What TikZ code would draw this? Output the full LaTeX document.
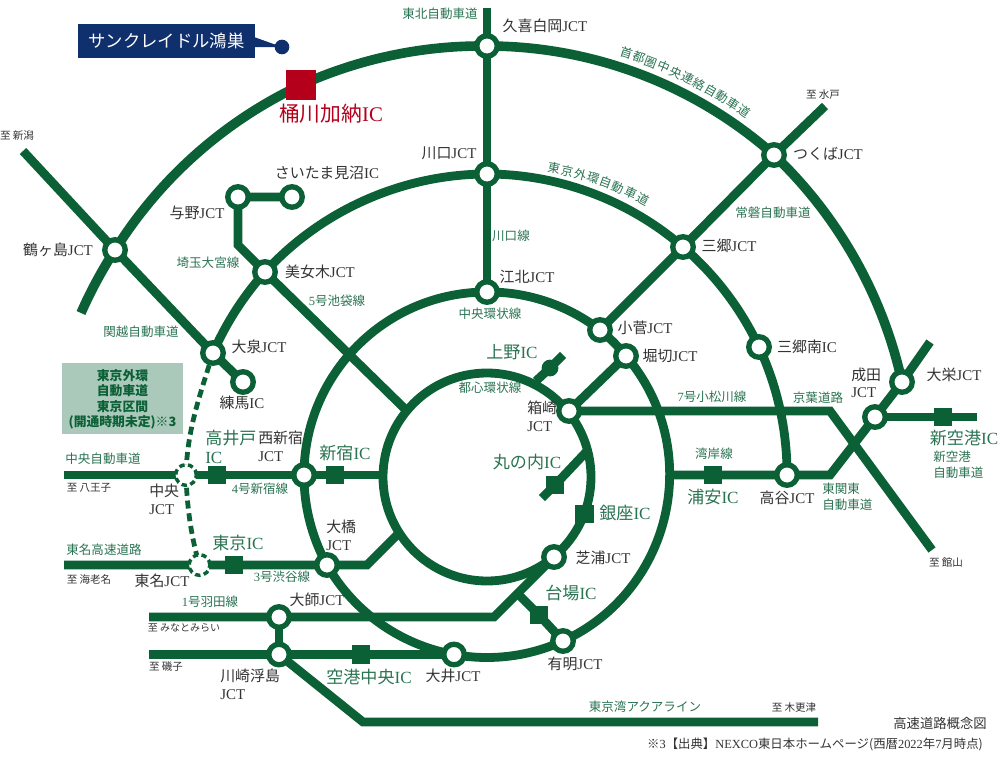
\documentclass[tikz,border=0pt]{standalone}
\usepackage{fontspec}
\setmainfont{Noto Sans CJK JP}
\newfontfamily\latf{Liberation Serif}
\usetikzlibrary{backgrounds,decorations.text}
\definecolor{road}{HTML}{0B6036}
\definecolor{roadtext}{HTML}{2A7352}
\definecolor{inktext}{HTML}{333333}
\definecolor{navybox}{HTML}{0F2F6D}
\definecolor{redic}{HTML}{B5001B}
\definecolor{notebox}{HTML}{AAC9BB}
\newcommand\lt[1]{{\latf #1}}
\newcommand\jct{\lt{JCT}}
\newcommand\icn{\lt{IC}}
\newcommand\fs[1]{\fontsize{#1}{#1}\selectfont}
\tikzset{
  x=0.75pt,y=-0.75pt,
  rd/.style={draw=road,line width=6.6pt,line join=miter},
  rdk/.style={draw=road,line width=7.2pt},
  seg/.style={bend left=#1,looseness={1.7029*tan(#1/2)/sin(#1)}},
  jc/.style={circle,draw=road,fill=white,line width=4pt,minimum size=15.4pt,inner sep=0pt},
  jcd/.style={circle,draw=road,fill=white,line width=2.6pt,dash pattern=on 4pt off 2.6pt,minimum size=15.5pt,inner sep=0pt},
  icsq/.style={rectangle,fill=road,minimum size=14.2pt,inner sep=0pt},
  lab/.style={text=inktext,font=\fs{11.2},inner sep=0pt,align=left},
  icl/.style={text=roadtext,font=\fs{12.8},inner sep=0pt,align=left},
  rn/.style={text=roadtext,font=\fs{9.4},inner sep=0pt,align=left},
  nt/.style={text=inktext,font=\fs{7.9},inner sep=0pt},
}
\begin{document}
\begin{tikzpicture}
\useasboundingbox (0,0) rectangle (1000,757);
% junctions
\node[jc] (kuki) at (487,46) {};
\node[jc] (kawaguchi) at (487,174) {};
\node[jc] (kohoku) at (487,292) {};
\node[jc] (tsuru) at (115,250) {};
\node[jc] (yono) at (238,197) {};
\node[jc] (minuma) at (292,197) {};
\node[jc] (bijogi) at (265,272) {};
\node[jc] (oizumi) at (213,353) {};
\node[jc] (nerima) at (243,382) {};
\node[jc] (tsukuba) at (774,155) {};
\node[jc] (misato) at (683,247) {};
\node[jc] (kosuge) at (600,330) {};
\node[jc] (horikiri) at (626,356) {};
\node[jc] (mminami) at (759,347) {};
\node[jc] (taiei) at (902,382) {};
\node[jc] (narita) at (875,417) {};
\node[jc] (hakozaki) at (569,411) {};
\node[jc] (takaya) at (787,475) {};
\node[jc] (shibaura) at (554,557) {};
\node[jc] (ariake) at (563,641) {};
\node[jc] (oi) at (454,654.5) {};
\node[jc] (nishi) at (304,475) {};
\node[jc] (ohashi) at (327,565) {};
\node[jc] (daishi) at (279,617) {};
\node[jc] (kawasaki) at (279,654.5) {};
\node[jcd] (chuo) at (186,475) {};
\node[jcd] (tomei) at (199.5,565) {};
% interchanges
\node[rectangle,fill=redic,minimum size=22.6pt,inner sep=0pt] (okegawa) at (301,85) {};
\node[icsq] (takaido) at (217,475) {};
\node[icsq] (shinjuku) at (335,475) {};
\node[icsq] (tokyo) at (234,565) {};
\node[icsq] (kukou) at (361,654.5) {};
\node[icsq] (urayasu) at (713,475) {};
\node[icsq] (shinkuko) at (943,417) {};
\node[icsq] (ginza) at (584.5,514) {};
\node[icsq] (daiba) at (539,615) {};
\node[icsq] (maru) at (555,485) {};
\node[circle,fill=road,minimum size=12.6pt,inner sep=0pt] (ueno) at (550,368) {};
% free ends and bends
\coordinate (tohokuEnd) at (487,8);
\coordinate (kenoEnd) at (81,313);
\coordinate (kanetsuEnd) at (23,151);
\coordinate (mitoEnd) at (825,106);
\coordinate (taieiEnd) at (930,342);
\coordinate (bjBend) at (238,245);
\coordinate (ikeEnd) at (405,409);
\coordinate (uenoTip) at (563,355);
\coordinate (uenoRing) at (536,381);
\coordinate (maruTip) at (542,498);
\coordinate (maruRing) at (588,450);
\coordinate (komaBend) at (830,411);
\coordinate (tateyama) at (932,550);
\coordinate (shinEnd) at (977,417);
\coordinate (chuoEnd) at (64,475);
\coordinate (shinjukuEnd) at (383,475);
\coordinate (tomeiEnd) at (64,565);
\coordinate (shibuyaBend) at (367,565);
\coordinate (shibuyaEnd) at (399,533);
\coordinate (haneEnd) at (149,617);
\coordinate (haneBend) at (494,617);
\coordinate (isogoEnd) at (149,654.5);
\coordinate (aquaBend) at (363,722);
\coordinate (aquaEnd) at (818,722);
\coordinate (wanganE) at (670,475);
\coordinate (wanganBend) at (830,475);
\coordinate (daibaJoin) at (516,592);
\begin{scope}[on background layer]
  % toshin ring
  \node[circle,draw=road,line width=6.6pt,minimum size=156pt,inner sep=0pt] (toshin) at (487,477) {};
  % ken-o
  \draw[rdk] (kenoEnd) to[seg=4.65] (tsuru.center) to[seg=16.45] (okegawa.center) to[seg=12.5] (kuki.center) to[seg=20.8] (tsukuba.center) to[seg=17] (taiei.center);
  % gaikan
  \draw[rd] (oizumi.center) to[seg=9.2] (bijogi.center) to[seg=23.7] (kawaguchi.center) to[seg=20.35] (misato.center) to[seg=12.1] (mminami.center) to[seg=12.65] (takaya.center);
  % chuo kanjo
  \draw[rd] (kohoku.center) to[seg=19] (kosuge.center) to[seg=5.8] (horikiri.center) to[seg=52.85] (ariake.center) to[seg=17.5] (oi.center) to[seg=25.1] (ohashi.center) to[seg=14.5] (nishi.center) to[seg=45] (kohoku.center);
  % radials
  \draw[rd] (tohokuEnd) -- (kuki.center) -- (kawaguchi.center) -- (kohoku.center);
  \draw[rd] (kanetsuEnd) -- (tsuru.center) -- (oizumi.center) -- (nerima.center);
  \draw[rd] (minuma.center) -- (yono.center) -- (bjBend) -- (bijogi.center) -- (ikeEnd);
  \draw[rd] (mitoEnd) -- (tsukuba.center) -- (misato.center) -- (kosuge.center);
  \draw[rd] (horikiri.center) -- (hakozaki.center) -- (komaBend) -- (tateyama);
  \draw[rd] (uenoRing) -- (ueno.center) -- (uenoTip);
  \draw[rd] (maruRing) -- (maru.center) -- (maruTip);
  \draw[rd] (chuoEnd) -- (chuo.center) -- (takaido.center) -- (nishi.center) -- (shinjuku.center) -- (shinjukuEnd);
  \draw[rd] (tomeiEnd) -- (tomei.center) -- (tokyo.center) -- (ohashi.center) -- (shibuyaBend) -- (shibuyaEnd);
  \draw[rd] (haneEnd) -- (daishi.center) -- (haneBend) -- (shibaura.center);
  \draw[rd] (daishi.center) -- (kawasaki.center);
  \draw[rd] (isogoEnd) -- (kawasaki.center) -- (kukou.center) -- (oi.center);
  \draw[rd] (kawasaki.center) -- (aquaBend) -- (aquaEnd);
  \draw[rd] (daibaJoin) -- (daiba.center) -- (ariake.center);
  \draw[rd] (wanganE) -- (urayasu.center) -- (takaya.center) -- (wanganBend) -- (narita.center) -- (taiei.center) -- (taieiEnd);
  \draw[rd] (narita.center) -- (shinkuko.center) -- (shinEnd);
  % planned section
  \draw[draw=road,line width=3.6pt,dash pattern=on 6pt off 3.6pt] (oizumi.center) .. controls (200,395) and (187,430) .. (chuo.center);
  \draw[draw=road,line width=3.6pt,dash pattern=on 6pt off 3.6pt] (chuo.center) .. controls (187,510) and (192,540) .. (tomei.center);
\end{scope}
% callout
\node[fill=navybox,text=white,font=\fs{13},minimum width=132.7pt,minimum height=25pt,inner sep=0pt] (home) at (166.5,41) {サンクレイドル鴻巣};
\node[circle,fill=navybox,minimum size=11pt,inner sep=0pt] (homedot) at (282,47) {};
\coordinate (ptrA) at (254,37);
\coordinate (ptrB) at (254,47);
\fill[navybox] (ptrA) -- (homedot.center) -- (ptrB) -- cycle;
% note box
\node[fill=notebox,minimum width=90.8pt,minimum height=53.3pt,inner sep=0pt] (notebg) at (122.5,398.5) {};
\node[text=road,font=\bfseries\fs{9.6},align=center,inner sep=0pt,text depth=0pt] (notetxt) at (122.5,398) {東京外環\\[2.1pt]自動車道\\[2.1pt]東京区間\\[2.1pt](開通時期未定)※3};
% black labels
\node[lab] (t01) at (545,26) {久喜白岡\jct};
\node[lab] (t02) at (449,153) {川口\jct};
\node[lab] (t03) at (327,173) {さいたま見沼\icn};
\node[lab] (t04) at (197,213) {与野\jct};
\node[lab] (t05) at (58,250) {鶴ヶ島\jct};
\node[lab] (t06) at (320,272) {美女木\jct};
\node[lab] (t07) at (259,347) {大泉\jct};
\node[lab] (t08) at (527,277) {江北\jct};
\node[lab] (t09) at (828,154) {つくば\jct};
\node[lab] (t10) at (729,246) {三郷\jct};
\node[lab] (t11) at (645,328) {小菅\jct};
\node[lab] (t12) at (670,356) {堀切\jct};
\node[lab] (t13) at (807,347) {三郷南\icn};
\node[lab,anchor=west] (t14) at (851,383) {成田\\[2pt]\jct};
\node[lab] (t15) at (954,375) {大栄\jct};
\node[lab,anchor=west] (t16) at (527,416) {箱崎\\[2pt]\jct};
\node[lab] (t17) at (603,558) {芝浦\jct};
\node[lab] (t18) at (575,664) {有明\jct};
\node[lab] (t19) at (787,498) {高谷\jct};
\node[lab] (t20) at (242,403) {練馬\icn};
\node[lab,anchor=west] (t21) at (258,446) {西新宿\\[2pt]\jct};
\node[lab,anchor=west] (t22) at (149,499) {中央\\[2pt]\jct};
\node[lab,anchor=west] (t23) at (326,535) {大橋\\[2pt]\jct};
\node[lab] (t24) at (162,581) {東名\jct};
\node[lab] (t25) at (317,600) {大師\jct};
\node[lab,anchor=west] (t26) at (220,684) {川崎浮島\\[2pt]\jct};
\node[lab] (t27) at (453,676) {大井\jct};
% IC labels
\node[font=\fs{15.6},text=redic,inner sep=0pt] (t30) at (331,114) {桶川加納\icn};
\node[icl] (t31) at (512,352) {上野\icn};
\node[icl] (t32) at (527,462) {丸の内\icn};
\node[icl] (t33) at (625,513) {銀座\icn};
\node[icl] (t34) at (571,593) {台場\icn};
\node[icl] (t35) at (713,497) {浦安\icn};
\node[icl] (t36) at (964,438) {新空港\icn};
\node[icl,anchor=west] (t37) at (205,447) {高井戸\\[2pt]\icn};
\node[icl] (t38) at (345,453) {新宿\icn};
\node[icl] (t39) at (238,543) {東京\icn};
\node[icl] (t40) at (369,677) {空港中央\icn};
% road names
\node[rn] (r01) at (440,14) {東北自動車道};
\node[rn] (r02) at (208,263) {埼玉大宮線};
\node[rn] (r03) at (337,301) {\lt{5}号池袋線};
\node[rn] (r04) at (141,332) {関越自動車道};
\node[rn] (r05) at (511,236) {川口線};
\node[rn] (r06) at (490,314) {中央環状線};
\node[rn] (r07) at (773,213) {常磐自動車道};
\node[rn] (r08) at (490,388) {都心環状線};
\node[rn] (r09) at (712,397) {\lt{7}号小松川線};
\node[rn] (r10) at (818,398) {京葉道路};
\node[rn] (r11) at (714,454) {湾岸線};
\node[rn,anchor=west] (r12) at (822,497) {東関東\\[2.4pt]自動車道};
\node[rn,anchor=west] (r13) at (933,464.5) {新空港\\[2.4pt]自動車道};
\node[rn] (r14) at (645,707) {東京湾アクアライン};
\node[rn] (r15) at (103,459) {中央自動車道};
\node[rn] (r16) at (260,489) {\lt{4}号新宿線};
\node[rn] (r17) at (104,550) {東名高速道路};
\node[rn] (r18) at (282,577) {\lt{3}号渋谷線};
\node[rn] (r19) at (210,602) {\lt{1}号羽田線};
% curved road names
\coordinate (kenA) at (619,56);
\coordinate (kenB) at (747,119);
\coordinate (gaiA) at (547,172);
\coordinate (gaiB) at (646,206);
\path[decorate,decoration={text along path,text align={fit to path},text color=roadtext,text={|\fs{9.2}|首都圏中央連絡自動車道}}] (kenA) to[seg=9.5] (kenB);
\path[decorate,decoration={text along path,text align={fit to path},text color=roadtext,text={|\fs{9.2}|東京外環自動車道}}] (gaiA) to[seg=10] (gaiB);
% destinations
\node[nt] (n01) at (17,136) {至 新潟};
\node[nt] (n02) at (823,95) {至 水戸};
\node[nt] (n03) at (946,562) {至 館山};
\node[nt] (n04) at (794,707) {至 木更津};
\node[nt] (n05) at (89,488) {至 八王子};
\node[nt] (n06) at (89,579) {至 海老名};
\node[nt,font=\fs{7.5}] (n07) at (184,628) {至 みなとみらい};
\node[nt] (n08) at (166,667) {至 磯子};
% footer
\node[lab,font=\fs{10}] (f1) at (940,723) {高速道路概念図};
\node[lab,font=\fs{9.3}] (f2) at (815,744) {※\lt{3}【出典】\lt{NEXCO}東日本ホームページ(西暦\lt{2022}年\lt{7}月時点)};
\end{tikzpicture}
\end{document}
